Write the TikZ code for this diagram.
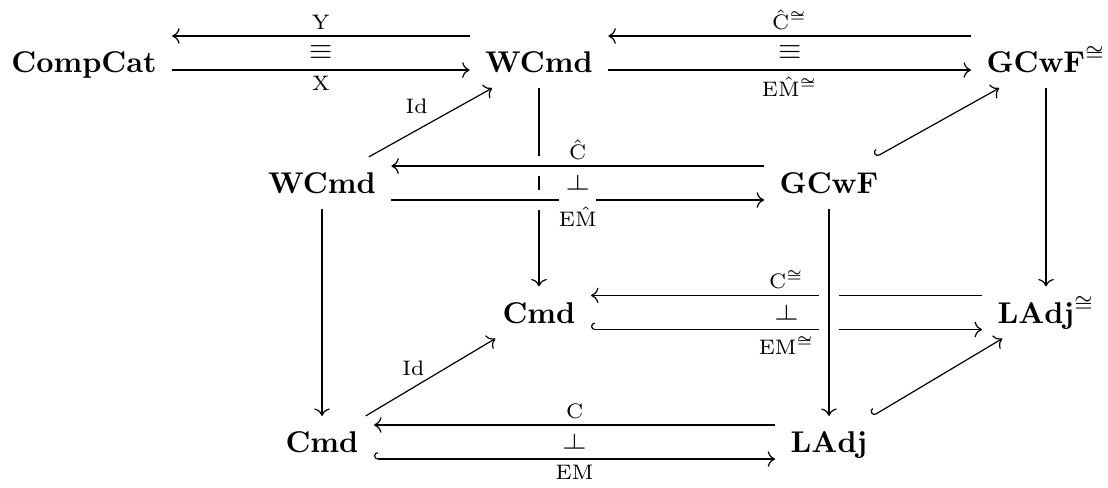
\documentclass[tikz,border=0pt]{standalone}
\usepackage{amsmath,amssymb}
\usetikzlibrary{arrows.meta}

\tikzset{
  cat/.style={inner xsep=5pt, inner ysep=5pt, text height=7pt, text depth=0pt},
  lbl/.style={font=\scriptsize, inner sep=2pt},
  rel/.style={inner sep=0pt},
  map/.style={-{Computer Modern Rightarrow}},
  inc/.style={{Hooks[right]}-{Computer Modern Rightarrow}},
  over/.style={preaction={draw=white, line width=6.5pt, -}},
}

\begin{document}
\begin{tikzpicture}[x=0.3333pt, y=-0.3333pt]
  \useasboundingbox (0,0) rectangle (1108,487);

  % back square
  \node[cat] (compcat) at (84,62) {$\mathbf{CompCat}$};
  \node[cat] (wcmdT) at (539,62) {$\mathbf{WCmd}$};
  \node[cat] (gcwfT) at (1046,62) {$\mathbf{GCwF}^{\cong}$};
  \node[cat] (cmdB) at (539,312.5) {$\mathbf{Cmd}$};
  \node[cat] (ladjB) at (1046,312.5) {$\mathbf{LAdj}^{\cong}$};
  % front square
  \node[cat] (wcmdF) at (322,183) {$\mathbf{WCmd}$};
  \node[cat] (gcwfF) at (829,183) {$\mathbf{GCwF}$};
  \node[cat] (cmdF) at (322,442) {$\mathbf{Cmd}$};
  \node[cat] (ladjF) at (829,442) {$\mathbf{LAdj}$};

  % top row
  \draw[map] ([yshift=8.67pt]wcmdT.west) -- node[lbl, above]{$\mathrm{Y}$} ([yshift=8.67pt]compcat.east);
  \draw[map] ([yshift=-2.67pt]compcat.east) -- node[lbl, below]{$\mathrm{X}$} ([yshift=-2.67pt]wcmdT.west);
  \path ([yshift=3pt]compcat.east) -- node[rel]{$\equiv$} ([yshift=3pt]wcmdT.west);
  \draw[map] ([yshift=8.67pt]gcwfT.west) -- node[lbl, above]{$\hat{\mathrm{C}}^{\cong}$} ([yshift=8.67pt]wcmdT.east);
  \draw[map] ([yshift=-2.67pt]wcmdT.east) -- node[lbl, below]{$\mathrm{E}\hat{\mathrm{M}}^{\cong}$} ([yshift=-2.67pt]gcwfT.west);
  \path ([yshift=3pt]wcmdT.east) -- node[rel]{$\equiv$} ([yshift=3pt]gcwfT.west);

  % verticals and diagonals
  \draw[map] (wcmdT) -- (cmdB);
  \draw[map] (gcwfT) -- (ladjB);
  \draw[map] (wcmdF) -- (cmdF);
  \draw[map] (wcmdF) -- node[lbl, pos=0.53, above left]{$\mathrm{Id}$} (wcmdT);
  \draw[inc] (gcwfF) -- (gcwfT);
  \draw[map] (cmdF) -- node[lbl, pos=0.48, above left=-1pt]{$\mathrm{Id}$} (cmdB);
  \draw[inc] (ladjF) -- (ladjB);

  % middle row, in front of the back vertical
  \draw[map, over] ([yshift=5.67pt]gcwfF.west) -- node[lbl, above]{$\hat{\mathrm{C}}$} ([yshift=5.67pt]wcmdF.east);
  \draw[map, over] ([yshift=-5.67pt]wcmdF.east) -- node[lbl, below]{$\mathrm{E}\hat{\mathrm{M}}$} ([yshift=-5.67pt]gcwfF.west);
  \path (wcmdF) -- node[rel, yshift=-0.83pt, rotate=-90, fill=white, inner xsep=1.95pt, inner ysep=2.7pt]{$\dashv$\kern1.67pt} (gcwfF);

  % lower back row, behind the front vertical
  \draw[map] ([yshift=5.67pt]ladjB.west) -- node[lbl, above]{$\mathrm{C}^{\cong}$} ([yshift=5.67pt]cmdB.east);
  \draw[inc] ([yshift=-5.67pt]cmdB.east) -- node[lbl, below]{$\mathrm{EM}^{\cong}$} ([yshift=-5.67pt]ladjB.west);
  \path (cmdB) -- node[rel, rotate=-90]{$\dashv$} (ladjB);
  \draw[map, over] (gcwfF) -- (ladjF);

  % bottom row
  \draw[map] ([yshift=5.67pt]ladjF.west) -- node[lbl, above]{$\mathrm{C}$} ([yshift=5.67pt]cmdF.east);
  \draw[inc] ([yshift=-5.67pt]cmdF.east) -- node[lbl, below]{$\mathrm{EM}$} ([yshift=-5.67pt]ladjF.west);
  \path (cmdF) -- node[rel, rotate=-90]{$\dashv$} (ladjF);
\end{tikzpicture}
\end{document}
